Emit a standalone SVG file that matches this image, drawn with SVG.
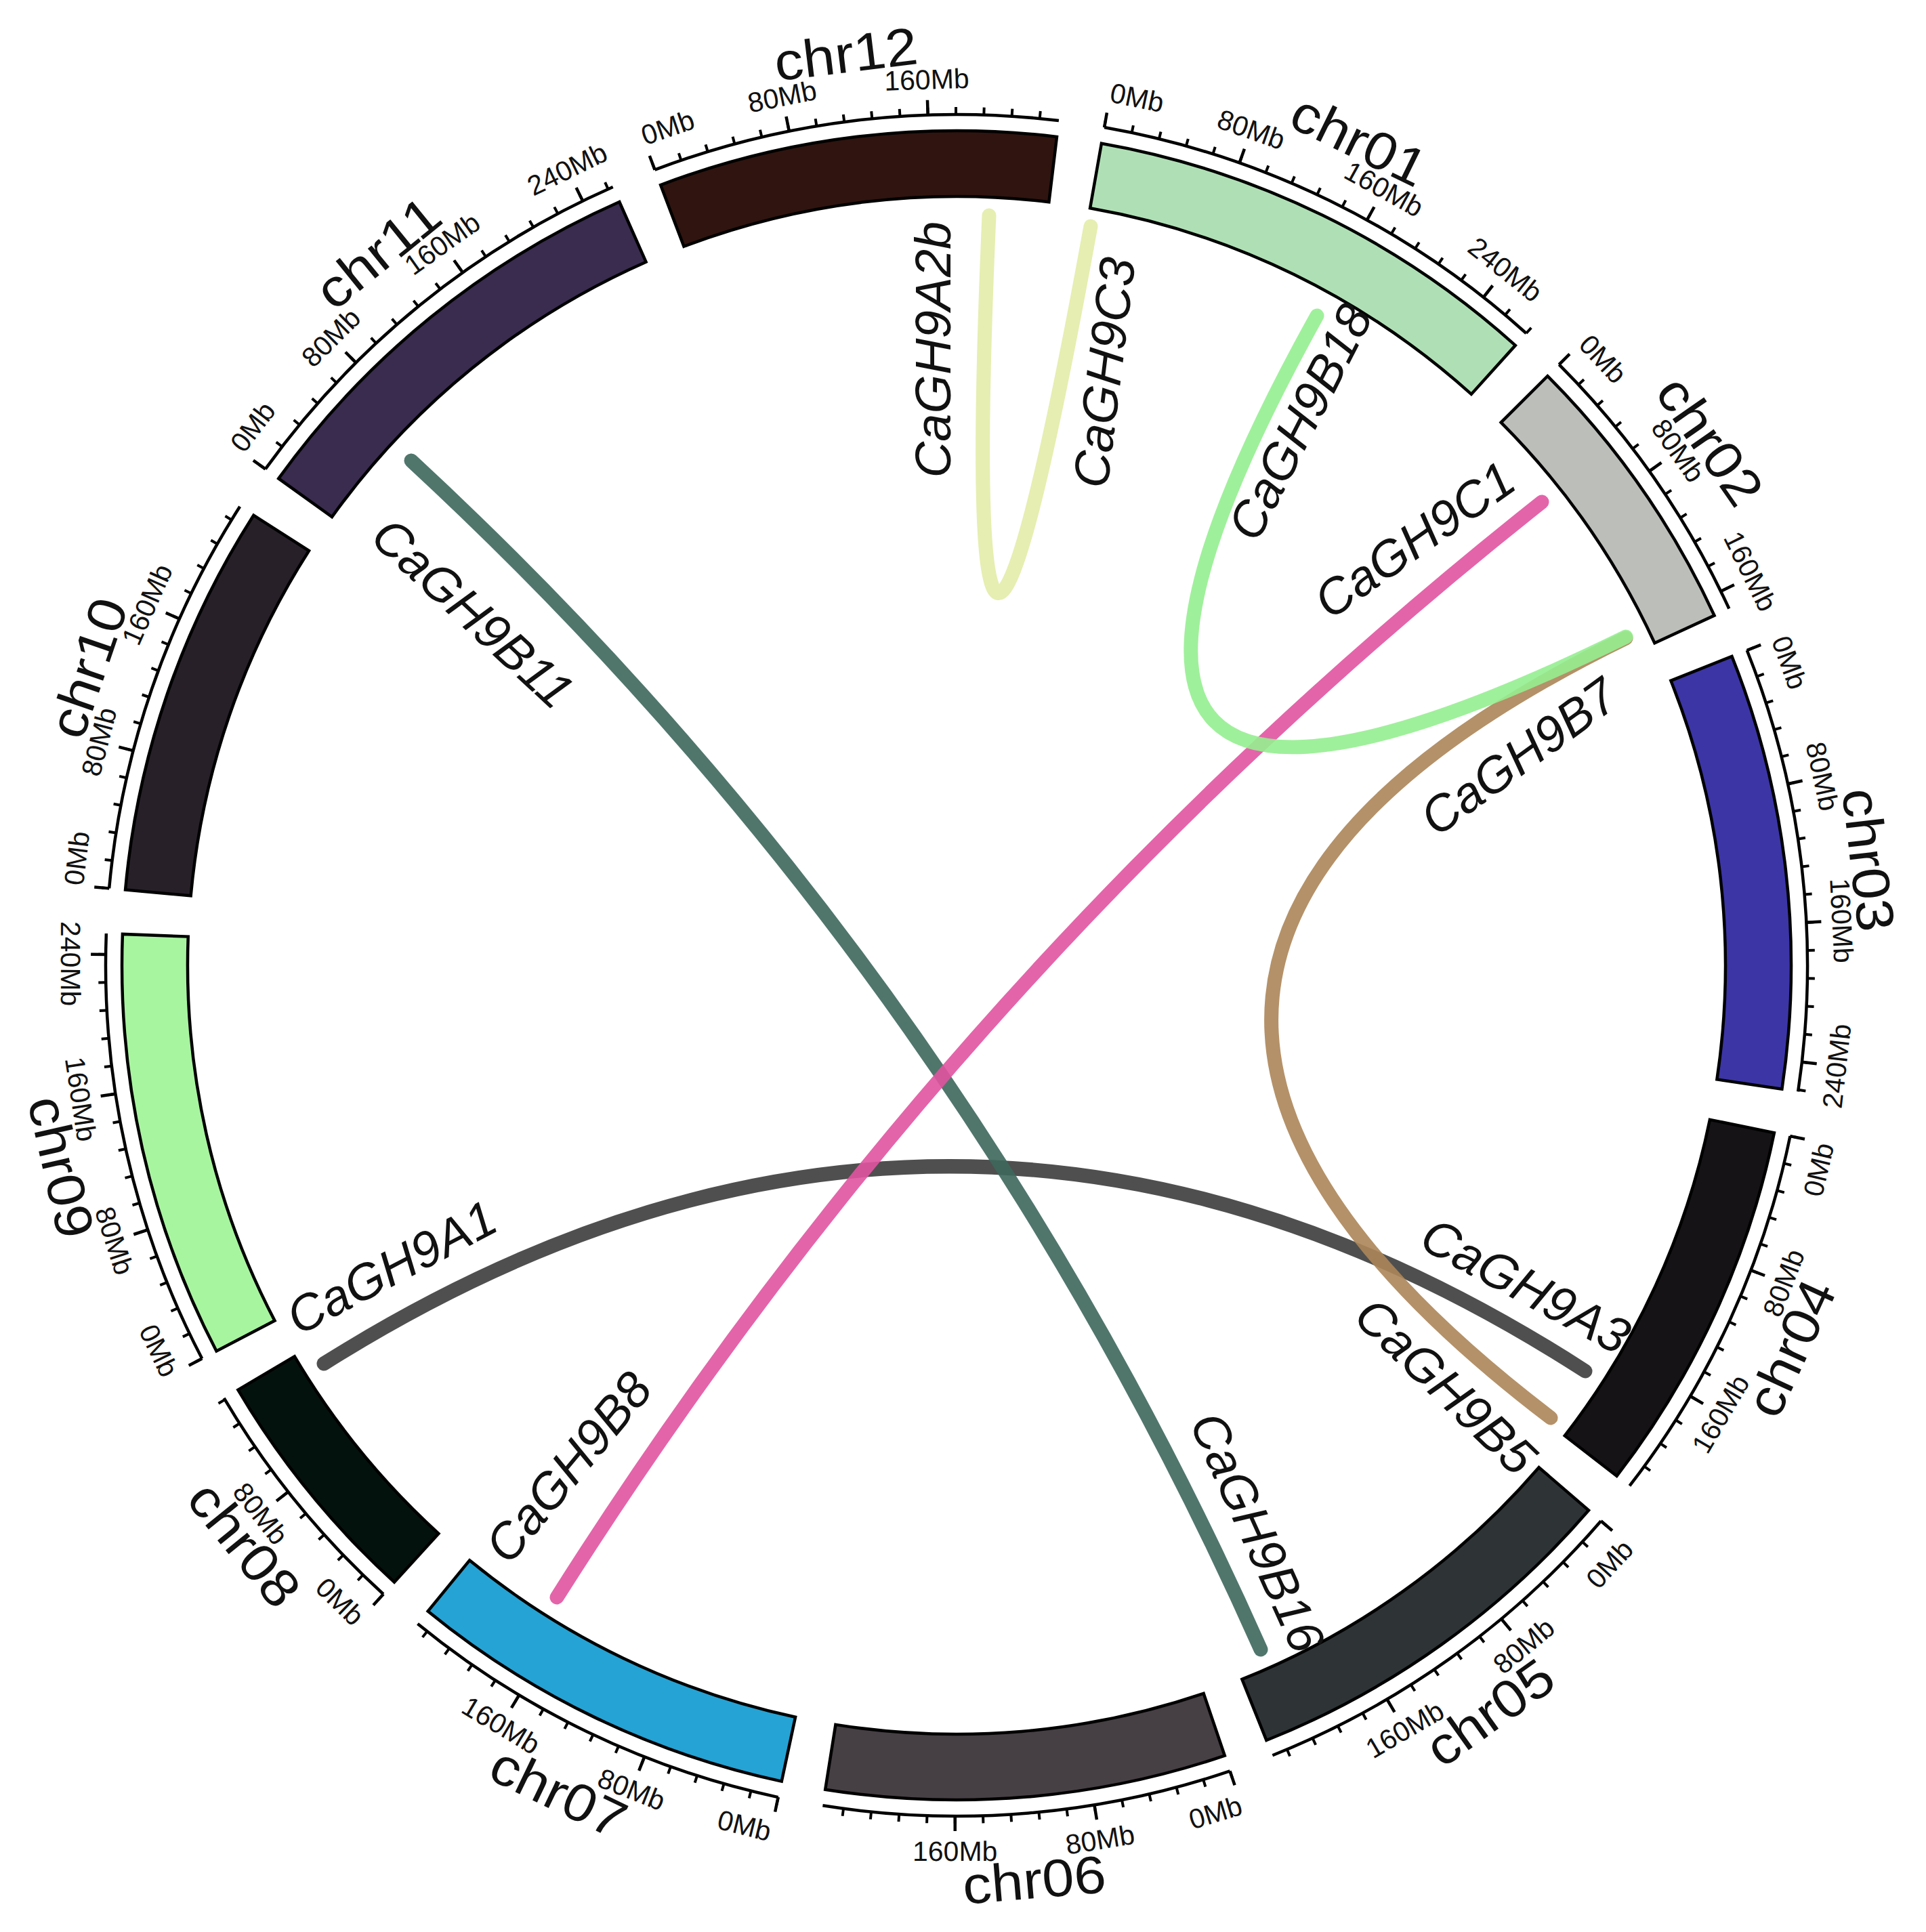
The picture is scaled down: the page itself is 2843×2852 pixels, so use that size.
<svg xmlns="http://www.w3.org/2000/svg" xmlns:xlink="http://www.w3.org/1999/xlink" width="2843" height="2852" viewBox="0 0 2843 2852">
<style>
.band{stroke:#000;stroke-width:4.5;stroke-linejoin:miter}
.axis{fill:none;stroke:#000;stroke-width:4.5}
.minor{fill:none;stroke:#000;stroke-width:11;stroke-dasharray:4 37.481}
.tl{font-family:"Liberation Sans",Arial,sans-serif;font-size:41px;text-anchor:middle;dominant-baseline:central;fill:#111}
.cl{font-family:"Liberation Sans",Arial,sans-serif;font-size:78px;text-anchor:middle;dominant-baseline:central;fill:#111}
.gl{font-family:"Liberation Sans",Arial,sans-serif;font-style:italic;font-size:74px;text-anchor:middle;dominant-baseline:central;fill:#111}
.link{fill:none;stroke-width:21;stroke-linecap:round;stroke-opacity:0.9}
</style>
<defs>
<line id="M" x1="1412" y1="169" x2="1412" y2="147" stroke="#000" stroke-width="4.5"/>
</defs>
<rect width="2843" height="2852" fill="#fff"/>

<g id="links">
<path class="link" stroke="#e3eca9" d="M1460,318 Q1412,1425 1610,334"/>
<path class="link" stroke="#3c3c3c" d="M478,2013 Q1412,1425 2340,2024"/>
<path class="link" stroke="#3d675c" d="M607,680 Q1412,1425 1861,2435"/>
<path class="link" stroke="#ac8558" d="M2400,942 Q1412,1425 2289,2093"/>
<path class="link" stroke="#e153a1" d="M2276,741 Q1412,1425 822,2358"/>
<path class="link" stroke="#95ee90" d="M1944,466 Q1412,1425 2400,940"/>
</g>

<g id="chr01">
<g transform="rotate(10 1412 1425)"><path class="band" fill="#afe0b5" d="M1412,193 A1232,1232 0 0 1 2065.4,380.5 L2013.9,462.8 A1135,1135 0 0 0 1412,290Z"/><path class="axis" d="M1412,169 A1256,1256 0 0 1 2078.1,360.2"/></g>
<path class="minor" transform="rotate(9.9092 1412 1425)" d="M1412,163.5 A1261.5,1261.5 0 0 1 2084.4,357.6"/>
<use href="#M" transform="rotate(10 1412 1425)"/><use href="#M" transform="rotate(19.42 1412 1425)"/><use href="#M" transform="rotate(28.84 1412 1425)"/><use href="#M" transform="rotate(38.26 1412 1425)"/>
<text class="tl" x="1412" y="117" transform="rotate(11.75 1412 1425)">0Mb</text>
<text class="tl" x="1412" y="117" transform="rotate(19.42 1412 1425)">80Mb</text>
<text class="tl" x="1412" y="117" transform="rotate(28.84 1412 1425)">160Mb</text>
<text class="tl" x="1412" y="117" transform="rotate(38.26 1412 1425)">240Mb</text>
<text class="cl" x="1412" y="70" textLength="212" lengthAdjust="spacingAndGlyphs" transform="rotate(26.01 1412 1425)">chr01</text>
</g>

<g id="chr02">
<g transform="rotate(45.08 1412 1425)"><path class="band" fill="#bcbeba" d="M1412,193 A1232,1232 0 0 1 1836.1,268.3 L1802.7,359.4 A1135,1135 0 0 0 1412,290Z"/><path class="axis" d="M1412,169 A1256,1256 0 0 1 1844.4,245.8"/></g>
<path class="minor" transform="rotate(44.9892 1412 1425)" d="M1412,163.5 A1261.5,1261.5 0 0 1 1823.2,232.4"/>
<use href="#M" transform="rotate(45.08 1412 1425)"/><use href="#M" transform="rotate(54.5 1412 1425)"/><use href="#M" transform="rotate(63.92 1412 1425)"/>
<text class="tl" x="1412" y="117" transform="rotate(46.83 1412 1425)">0Mb</text>
<text class="tl" x="1412" y="117" transform="rotate(54.5 1412 1425)">80Mb</text>
<text class="tl" x="1412" y="117" transform="rotate(63.6 1412 1425)">160Mb</text>
<text class="cl" x="1412" y="70" textLength="212" lengthAdjust="spacingAndGlyphs" transform="rotate(55.15 1412 1425)">chr02</text>
</g>

<g id="chr03">
<g transform="rotate(68.27 1412 1425)"><path class="band" fill="#3c35a6" d="M1412,193 A1232,1232 0 0 1 2032.9,360.9 L1984,444.7 A1135,1135 0 0 0 1412,290Z"/><path class="axis" d="M1412,169 A1256,1256 0 0 1 2045,340.1"/></g>
<path class="minor" transform="rotate(68.1792 1412 1425)" d="M1412,163.5 A1261.5,1261.5 0 0 1 2049,336.1"/>
<use href="#M" transform="rotate(68.27 1412 1425)"/><use href="#M" transform="rotate(77.69 1412 1425)"/><use href="#M" transform="rotate(87.11 1412 1425)"/><use href="#M" transform="rotate(96.53 1412 1425)"/>
<text class="tl" x="1412" y="117" transform="rotate(70.02 1412 1425)">0Mb</text>
<text class="tl" x="1412" y="117" transform="rotate(77.69 1412 1425)">80Mb</text>
<text class="tl" x="1412" y="117" transform="rotate(87.11 1412 1425)">160Mb</text>
<text class="tl" x="1412" y="117" transform="rotate(96.53 1412 1425) rotate(180 1412 117)">240Mb</text>
<text class="cl" x="1412" y="70" textLength="212" lengthAdjust="spacingAndGlyphs" transform="rotate(83.4 1412 1425)">chr03</text>
</g>

<g id="chr04">
<g transform="rotate(101.58 1412 1425)"><path class="band" fill="#151316" d="M1412,193 A1232,1232 0 0 1 1954.8,319 L1912.1,406.1 A1135,1135 0 0 0 1412,290Z"/><path class="axis" d="M1412,169 A1256,1256 0 0 1 1965.4,297.5"/></g>
<path class="minor" transform="rotate(101.4892 1412 1425)" d="M1412,163.5 A1261.5,1261.5 0 0 1 1938.6,278.7"/>
<use href="#M" transform="rotate(101.58 1412 1425)"/><use href="#M" transform="rotate(111 1412 1425)"/><use href="#M" transform="rotate(120.42 1412 1425)"/>
<text class="tl" x="1412" y="117" transform="rotate(103.33 1412 1425) rotate(180 1412 117)">0Mb</text>
<text class="tl" x="1412" y="117" transform="rotate(111 1412 1425) rotate(180 1412 117)">80Mb</text>
<text class="tl" x="1412" y="117" transform="rotate(120.42 1412 1425) rotate(180 1412 117)">160Mb</text>
<text class="cl" x="1412" y="70" textLength="212" lengthAdjust="spacingAndGlyphs" transform="rotate(114.65 1412 1425) rotate(180 1412 70)">chr04</text>
</g>

<g id="chr05">
<g transform="rotate(130.77 1412 1425)"><path class="band" fill="#2e3436" d="M1412,193 A1232,1232 0 0 1 1979.7,331.5 L1935,417.6 A1135,1135 0 0 0 1412,290Z"/><path class="axis" d="M1412,169 A1256,1256 0 0 1 1990.7,310.2"/></g>
<path class="minor" transform="rotate(130.6792 1412 1425)" d="M1412,163.5 A1261.5,1261.5 0 0 1 1976,296.6"/>
<use href="#M" transform="rotate(130.77 1412 1425)"/><use href="#M" transform="rotate(140.19 1412 1425)"/><use href="#M" transform="rotate(149.61 1412 1425)"/>
<text class="tl" x="1412" y="117" transform="rotate(132.52 1412 1425) rotate(180 1412 117)">0Mb</text>
<text class="tl" x="1412" y="117" transform="rotate(140.19 1412 1425) rotate(180 1412 117)">80Mb</text>
<text class="tl" x="1412" y="117" transform="rotate(149.61 1412 1425) rotate(180 1412 117)">160Mb</text>
<text class="cl" x="1412" y="70" textLength="212" lengthAdjust="spacingAndGlyphs" transform="rotate(144.49 1412 1425) rotate(180 1412 70)">chr05</text>
</g>

<g id="chr06">
<g transform="rotate(161.26 1412 1425)"><path class="band" fill="#463f44" d="M1412,193 A1232,1232 0 0 1 1986.4,335.1 L1941.2,420.9 A1135,1135 0 0 0 1412,290Z"/><path class="axis" d="M1412,169 A1256,1256 0 0 1 1997.6,313.9"/></g>
<path class="minor" transform="rotate(161.1692 1412 1425)" d="M1412,163.5 A1261.5,1261.5 0 0 1 1976,296.6"/>
<use href="#M" transform="rotate(161.26 1412 1425)"/><use href="#M" transform="rotate(170.68 1412 1425)"/><use href="#M" transform="rotate(180.1 1412 1425)"/>
<text class="tl" x="1412" y="117" transform="rotate(163.01 1412 1425) rotate(180 1412 117)">0Mb</text>
<text class="tl" x="1412" y="117" transform="rotate(170.68 1412 1425) rotate(180 1412 117)">80Mb</text>
<text class="tl" x="1412" y="117" transform="rotate(180.1 1412 1425) rotate(180 1412 117)">160Mb</text>
<text class="cl" x="1412" y="70" textLength="212" lengthAdjust="spacingAndGlyphs" transform="rotate(175.15 1412 1425) rotate(180 1412 70)">chr06</text>
</g>

<g id="chr07">
<g transform="rotate(192.1 1412 1425)"><path class="band" fill="#25a3d4" d="M1412,193 A1232,1232 0 0 1 1975.1,329.2 L1930.8,415.5 A1135,1135 0 0 0 1412,290Z"/><path class="axis" d="M1412,169 A1256,1256 0 0 1 1986.1,307.9"/></g>
<path class="minor" transform="rotate(192.0092 1412 1425)" d="M1412,163.5 A1261.5,1261.5 0 0 1 1976,296.6"/>
<use href="#M" transform="rotate(192.1 1412 1425)"/><use href="#M" transform="rotate(201.52 1412 1425)"/><use href="#M" transform="rotate(210.94 1412 1425)"/>
<text class="tl" x="1412" y="117" transform="rotate(193.85 1412 1425) rotate(180 1412 117)">0Mb</text>
<text class="tl" x="1412" y="117" transform="rotate(201.52 1412 1425) rotate(180 1412 117)">80Mb</text>
<text class="tl" x="1412" y="117" transform="rotate(210.94 1412 1425) rotate(180 1412 117)">160Mb</text>
<text class="cl" x="1412" y="70" textLength="212" lengthAdjust="spacingAndGlyphs" transform="rotate(205.7 1412 1425) rotate(180 1412 70)">chr07</text>
</g>

<g id="chr08">
<g transform="rotate(222.35 1412 1425)"><path class="band" fill="#04120e" d="M1412,193 A1232,1232 0 0 1 1773.7,247.3 L1745.2,340 A1135,1135 0 0 0 1412,290Z"/><path class="axis" d="M1412,169 A1256,1256 0 0 1 1780.8,224.4"/></g>
<path class="minor" transform="rotate(222.2592 1412 1425)" d="M1412,163.5 A1261.5,1261.5 0 0 1 1783.7,219.5"/>
<use href="#M" transform="rotate(222.35 1412 1425)"/><use href="#M" transform="rotate(231.77 1412 1425)"/>
<text class="tl" x="1412" y="117" transform="rotate(224.1 1412 1425) rotate(180 1412 117)">0Mb</text>
<text class="tl" x="1412" y="117" transform="rotate(231.77 1412 1425) rotate(180 1412 117)">80Mb</text>
<text class="cl" x="1412" y="70" textLength="212" lengthAdjust="spacingAndGlyphs" transform="rotate(230.89 1412 1425) rotate(180 1412 70)">chr08</text>
</g>

<g id="chr09">
<g transform="rotate(242.47 1412 1425)"><path class="band" fill="#a8f5a0" d="M1412,193 A1232,1232 0 0 1 2021.9,354.6 L1973.9,438.8 A1135,1135 0 0 0 1412,290Z"/><path class="axis" d="M1412,169 A1256,1256 0 0 1 2033.8,333.7"/></g>
<path class="minor" transform="rotate(242.3792 1412 1425)" d="M1412,163.5 A1261.5,1261.5 0 0 1 2012.8,315.8"/>
<use href="#M" transform="rotate(242.47 1412 1425)"/><use href="#M" transform="rotate(251.89 1412 1425)"/><use href="#M" transform="rotate(261.31 1412 1425)"/><use href="#M" transform="rotate(270.73 1412 1425)"/>
<text class="tl" x="1412" y="117" transform="rotate(244.22 1412 1425) rotate(180 1412 117)">0Mb</text>
<text class="tl" x="1412" y="117" transform="rotate(251.89 1412 1425) rotate(180 1412 117)">80Mb</text>
<text class="tl" x="1412" y="117" transform="rotate(261.31 1412 1425) rotate(180 1412 117)">160Mb</text>
<text class="tl" x="1412" y="117" transform="rotate(270.1 1412 1425) rotate(180 1412 117)">240Mb</text>
<text class="cl" x="1412" y="70" textLength="212" lengthAdjust="spacingAndGlyphs" transform="rotate(257.31 1412 1425) rotate(180 1412 70)">chr09</text>
</g>

<g id="chr10">
<g transform="rotate(275.19 1412 1425)"><path class="band" fill="#272029" d="M1412,193 A1232,1232 0 0 1 1979.7,331.5 L1935,417.6 A1135,1135 0 0 0 1412,290Z"/><path class="axis" d="M1412,169 A1256,1256 0 0 1 1990.7,310.2"/></g>
<path class="minor" transform="rotate(275.0992 1412 1425)" d="M1412,163.5 A1261.5,1261.5 0 0 1 1976,296.6"/>
<use href="#M" transform="rotate(275.19 1412 1425)"/><use href="#M" transform="rotate(284.61 1412 1425)"/><use href="#M" transform="rotate(294.03 1412 1425)"/>
<text class="tl" x="1412" y="117" transform="rotate(276.94 1412 1425)">0Mb</text>
<text class="tl" x="1412" y="117" transform="rotate(284.61 1412 1425)">80Mb</text>
<text class="tl" x="1412" y="117" transform="rotate(294.03 1412 1425)">160Mb</text>
<text class="cl" x="1412" y="70" textLength="212" lengthAdjust="spacingAndGlyphs" transform="rotate(288.91 1412 1425)">chr10</text>
</g>

<g id="chr11">
<g transform="rotate(305.68 1412 1425)"><path class="band" fill="#392c4f" d="M1412,193 A1232,1232 0 0 1 2037.2,363.4 L1988,447 A1135,1135 0 0 0 1412,290Z"/><path class="axis" d="M1412,169 A1256,1256 0 0 1 2049.4,342.8"/></g>
<path class="minor" transform="rotate(305.5892 1412 1425)" d="M1412,163.5 A1261.5,1261.5 0 0 1 2049,336.1"/>
<use href="#M" transform="rotate(305.68 1412 1425)"/><use href="#M" transform="rotate(315.1 1412 1425)"/><use href="#M" transform="rotate(324.52 1412 1425)"/><use href="#M" transform="rotate(333.94 1412 1425)"/>
<text class="tl" x="1412" y="117" transform="rotate(307.43 1412 1425)">0Mb</text>
<text class="tl" x="1412" y="117" transform="rotate(315.1 1412 1425)">80Mb</text>
<text class="tl" x="1412" y="117" transform="rotate(324.52 1412 1425)">160Mb</text>
<text class="tl" x="1412" y="117" transform="rotate(333.94 1412 1425)">240Mb</text>
<text class="cl" x="1412" y="70" textLength="212" lengthAdjust="spacingAndGlyphs" transform="rotate(320.93 1412 1425)">chr11</text>
</g>

<g id="chr12">
<g transform="rotate(339.23 1412 1425)"><path class="band" fill="#30140f" d="M1412,193 A1232,1232 0 0 1 1984.1,333.9 L1939.1,419.8 A1135,1135 0 0 0 1412,290Z"/><path class="axis" d="M1412,169 A1256,1256 0 0 1 1995.3,312.6"/></g>
<path class="minor" transform="rotate(339.1392 1412 1425)" d="M1412,163.5 A1261.5,1261.5 0 0 1 1976,296.6"/>
<use href="#M" transform="rotate(339.23 1412 1425)"/><use href="#M" transform="rotate(348.65 1412 1425)"/><use href="#M" transform="rotate(358.07 1412 1425)"/>
<text class="tl" x="1412" y="117" transform="rotate(340.98 1412 1425)">0Mb</text>
<text class="tl" x="1412" y="117" transform="rotate(348.65 1412 1425)">80Mb</text>
<text class="tl" x="1412" y="117" transform="rotate(358.07 1412 1425)">160Mb</text>
<text class="cl" x="1412" y="70" textLength="212" lengthAdjust="spacingAndGlyphs" transform="rotate(353.07 1412 1425)">chr12</text>
</g>

<g id="genes">
<text class="gl" x="1377" y="516" transform="rotate(-90 1377 516)">CaGH9A2b</text>
<text class="gl" x="1630" y="550" transform="rotate(-83 1630 550)">CaGH9C3</text>
<text class="gl" x="1919" y="623" transform="rotate(-62.9 1919 623)">CaGH9B18</text>
<text class="gl" x="2088" y="797" transform="rotate(-35.2 2088 797)">CaGH9C1</text>
<text class="gl" x="2242" y="1117" transform="rotate(-36 2242 1117)">CaGH9B7</text>
<text class="gl" x="2252" y="1898" transform="rotate(28.5 2252 1898)">CaGH9A3</text>
<text class="gl" x="2134" y="2046" transform="rotate(44 2134 2046)">CaGH9B5</text>
<text class="gl" x="1856" y="2262" transform="rotate(65.7 1856 2262)">CaGH9B16</text>
<text class="gl" x="839" y="2166" transform="rotate(-50.4 839 2166)">CaGH9B8</text>
<text class="gl" x="578" y="1871" transform="rotate(-27.8 578 1871)">CaGH9A1</text>
<text class="gl" x="698" y="905" transform="rotate(42.8 698 905)">CaGH9B11</text>
</g>
</svg>
